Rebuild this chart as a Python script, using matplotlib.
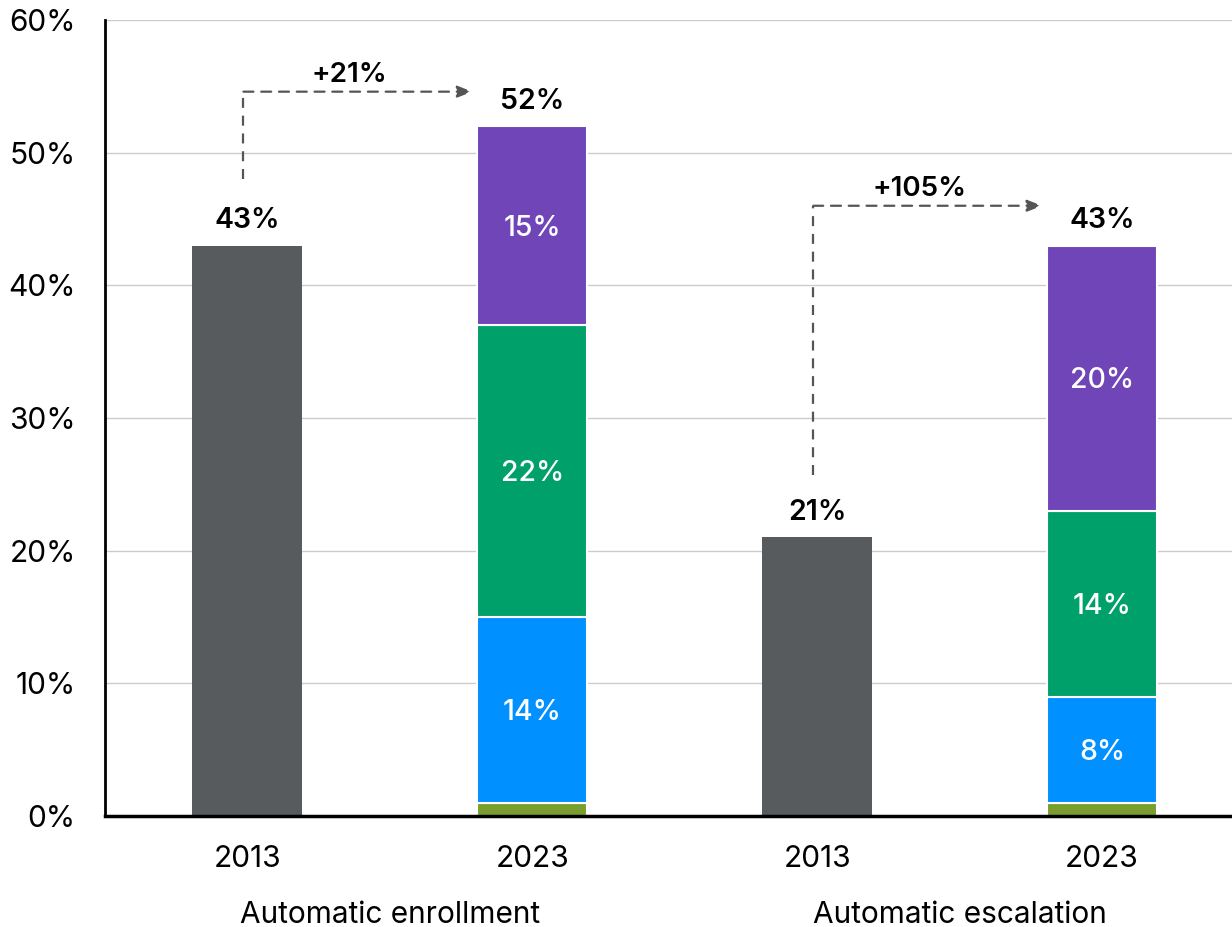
import matplotlib
matplotlib.use("Agg")
import matplotlib.pyplot as plt
import numpy as np

plt.rcParams['font.family'] = ['Inter', 'DejaVu Sans']

years = ["2013", "2023", "2013", "2023"]
groups = ["Automatic enrollment", "Automatic escalation"]
totals_2013 = [43, 21]
seg_olive = [1, 1]
seg_blue = [14, 8]
seg_green = [22, 14]
seg_purple = [15, 20]
totals_2023 = [52, 43]
change_labels = ["+21%", "+105%"]
yticks = [0, 10, 20, 30, 40, 50, 60]
ytick_labels = ["0%", "10%", "20%", "30%", "40%", "50%", "60%"]

c_gray = "#575B5E"
c_olive = "#7A9E2E"
c_blue = "#0090FF"
c_green = "#00A06B"
c_purple = "#6F45B8"

fig = plt.figure(figsize=(12.32, 9.27), dpi=100)
ax = fig.add_axes([0.0852, 0.1197, 0.9148, 0.8587])

x = np.arange(4)
w = 0.386
x13 = x[[0, 2]]
x23 = x[[1, 3]]

ax.bar(x13, totals_2013, width=w, color=c_gray, zorder=3)
bottom = np.zeros(2)
segs = [(seg_olive, c_olive, False), (seg_blue, c_blue, True),
        (seg_green, c_green, True), (seg_purple, c_purple, True)]
for vals, col, lab in segs:
    vals = np.array(vals, dtype=float)
    ax.bar(x23, vals, width=w, bottom=bottom, color=col, edgecolor="white",
           linewidth=1.5, zorder=3)
    if lab:
        for xi, b, v in zip(x23, bottom, vals):
            ax.text(xi, b + v / 2 - 0.2, f"{int(v)}%", ha="center", va="center",
                    color="white", fontsize=20.5, fontweight="medium", zorder=4)
    bottom += vals

for xi, v in zip(list(x13) + list(x23), totals_2013 + totals_2023):
    ax.text(xi, v + 0.85, f"{v}%", ha="center", va="bottom", fontsize=20.5,
            fontweight="semibold", color="black")

# change arrows
arrow_levels = [(48.0, 54.6), (25.7, 46.0)]
for i, (y0, ytop) in enumerate(arrow_levels):
    xs = x13[i] - 0.014
    xe = x23[i] - 0.21
    ax.plot([xs, xs], [y0, ytop], ls=(0, (4.5, 3.5)), color="#555555", lw=1.6, zorder=5)
    ax.annotate("", xy=(xe, ytop), xytext=(xs, ytop),
                arrowprops=dict(arrowstyle="-|>,head_length=0.9,head_width=0.35",
                                color="#555555", lw=1.6, ls=(0, (4.5, 3.5)),
                                shrinkA=0, shrinkB=0), zorder=5)
    ax.text((xs + xe) / 2 - 0.03, ytop + 0.3, change_labels[i], ha="center",
            va="bottom", fontsize=20, fontweight="semibold")

ax.set_ylim(0, 60)
ax.set_xlim(-0.5, 3.456)
ax.set_yticks(yticks)
ax.set_yticklabels(ytick_labels, fontsize=21.5)
ax.set_xticks(x)
ax.set_xticklabels(years, fontsize=21.5)
ax.tick_params(axis="x", length=0, pad=21)
ax.tick_params(axis="y", length=0, pad=21)
ax.yaxis.grid(True, color="#CCCCCC", lw=1, zorder=0)
ax.set_axisbelow(True)
for s in ["top", "right"]:
    ax.spines[s].set_visible(False)
ax.spines["left"].set_linewidth(2)
ax.spines["bottom"].set_linewidth(2.5)
ax.spines["left"].set_zorder(6)
ax.spines["bottom"].set_zorder(6)

for gi, g in enumerate(groups):
    xc = (x13[gi] + x23[gi]) / 2
    ax.text(xc, -7.45, g, ha="center", va="center", fontsize=21.5,
            transform=ax.transData, clip_on=False)

fig.savefig("out.png", dpi=100)
